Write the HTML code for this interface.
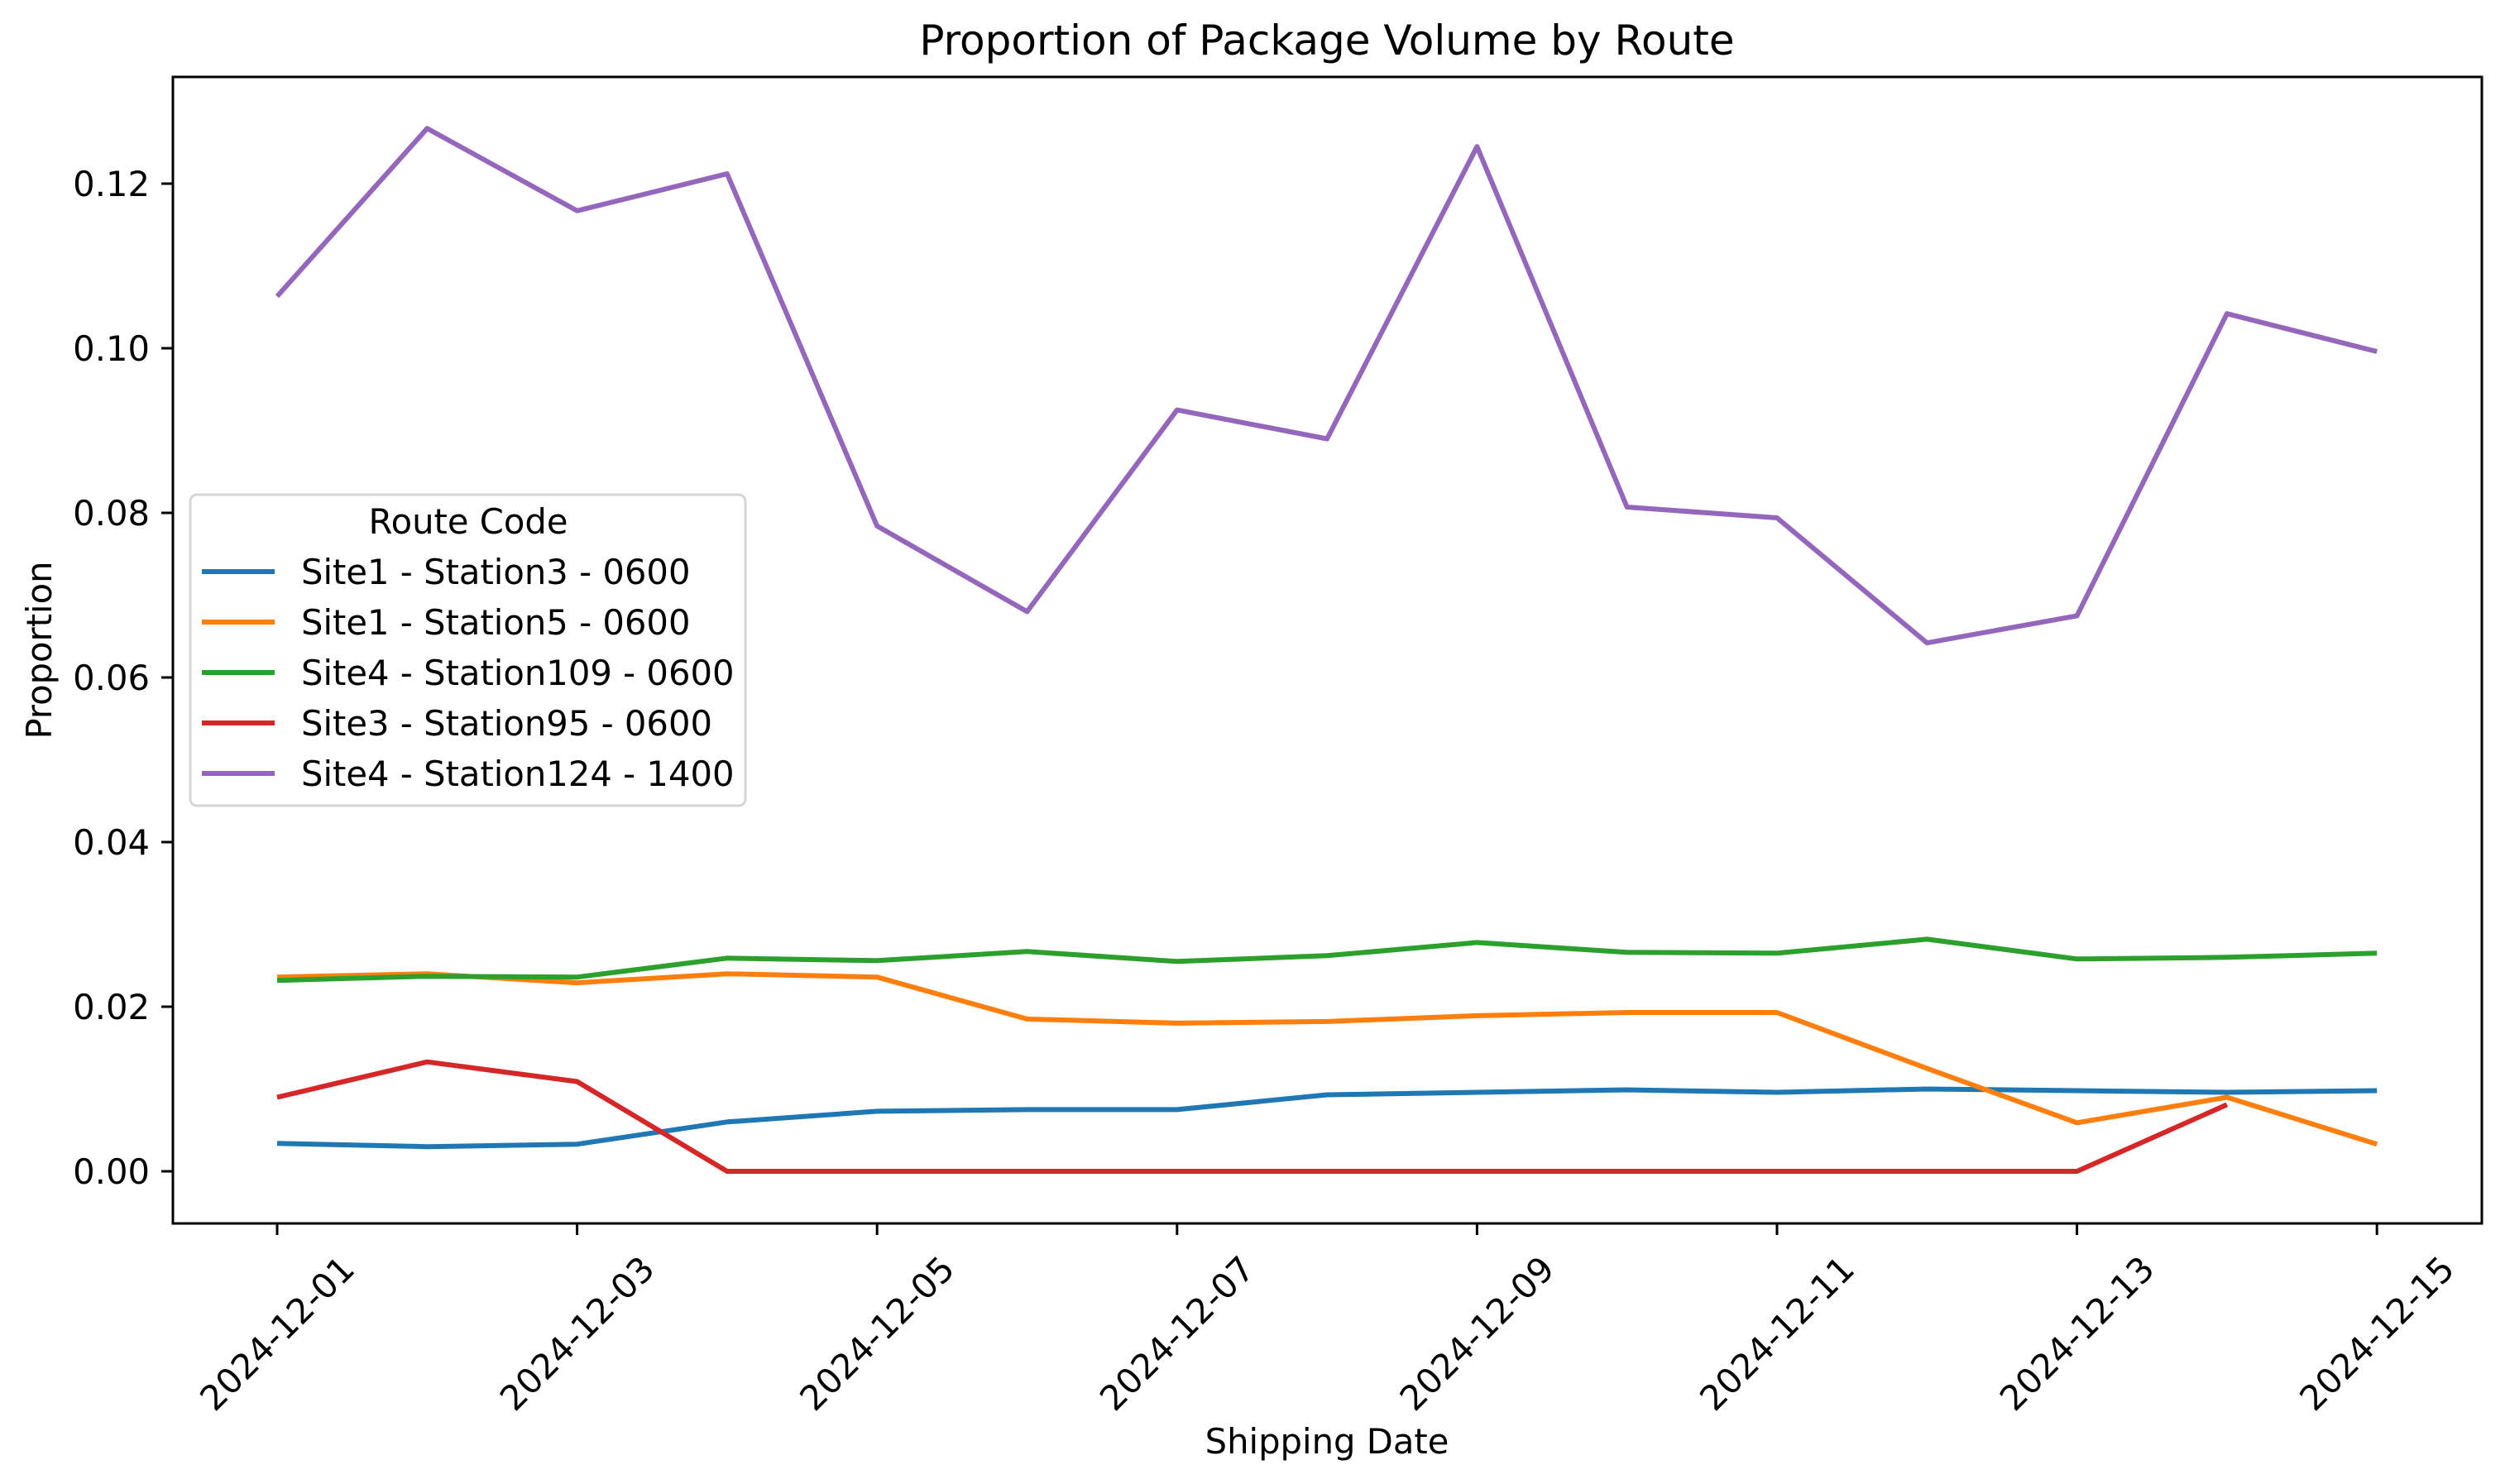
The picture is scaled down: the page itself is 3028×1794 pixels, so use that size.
<!DOCTYPE html>
<html><head><meta charset="utf-8"><style>
html,body{margin:0;padding:0;background:#fff;}
svg{display:block;font-family:"DejaVu Sans","Liberation Sans",sans-serif;}
</style></head><body>
<svg id="chart" width="3028" height="1794" viewBox="0 0 3028 1794" xmlns="http://www.w3.org/2000/svg">
<rect width="3028" height="1794" fill="#fff"/>
<text x="1604" y="66" text-anchor="middle" font-size="50">Proportion of Package Volume by Route</text>
<text x="0" y="0" transform="translate(62,786) rotate(-90)" text-anchor="middle" font-size="41.7">Proportion</text>
<text x="1604" y="1757" text-anchor="middle" font-size="41.7">Shipping Date</text>
<g id="plot"></g>
<rect x="209" y="93" width="2791" height="1386" fill="none" stroke="#000" stroke-width="3"/>
<g id="legend"></g>
</svg>
<script>
const dates = ["2024-12-01","2024-12-02","2024-12-03","2024-12-04","2024-12-05","2024-12-06","2024-12-07","2024-12-08","2024-12-09","2024-12-10","2024-12-11","2024-12-12","2024-12-13","2024-12-14","2024-12-15"];
const seriesNames = ["Site1 - Station3 - 0600","Site1 - Station5 - 0600","Site4 - Station109 - 0600","Site3 - Station95 - 0600","Site4 - Station124 - 1400"];
const blueVals = [0.0034,0.0030,0.0033,0.0060,0.0073,0.0075,0.0075,0.0093,0.0096,0.0099,0.0096,0.0100,0.0098,0.0096,0.0098];
const orangeVals = [0.0236,0.0240,0.0229,0.0240,0.0236,0.0185,0.0180,0.0182,0.0189,0.0193,0.0193,0.0125,0.0059,0.0090,0.0033];
const greenVals = [0.0232,0.0237,0.0236,0.0259,0.0256,0.0267,0.0255,0.0262,0.0278,0.0266,0.0265,0.0282,0.0258,0.0260,0.0265];
const redVals = [0.0090,0.0133,0.0109,0,0,0,0,0,0,0,0,0,0,0.0081,null];
const purpleVals = [0.1063,0.1267,0.1167,0.1212,0.0784,0.0680,0.0925,0.0890,0.1245,0.0807,0.0794,0.0642,0.0675,0.1042,0.0996];
const yTicks = [0.00,0.02,0.04,0.06,0.08,0.10,0.12];
const xTickLabels = ["2024-12-01","2024-12-03","2024-12-05","2024-12-07","2024-12-09","2024-12-11","2024-12-13","2024-12-15"];

const colors = ["#1f77b4","#ff7f0e","#2ca02c","#d62728","#9467bd"];
const NS = "http://www.w3.org/2000/svg";
const plot = document.getElementById('plot');
const legend = document.getElementById('legend');
function xScale(i){ return 335 + i * 181.3; }
function yScale(v){ return 1416 - v / 0.02 * 199; }
function mk(tag, attrs, parent){ const e=document.createElementNS(NS,tag); for(const k in attrs) e.setAttribute(k,attrs[k]); parent.appendChild(e); return e; }

yTicks.forEach(t=>{
  const y=yScale(t);
  const tk=mk('line',{x1:195,x2:209,y1:y,y2:y,stroke:'#000','stroke-width':3},plot);
  
  
  const lb=mk('text',{x:181,y:y+15,'text-anchor':'end','font-size':41.7},plot);
  
  
  lb.textContent=t.toFixed(2);
});
xTickLabels.forEach(d=>{
  const i=dates.indexOf(d); const x=xScale(i);
  const tk=mk('line',{x1:x,x2:x,y1:1479,y2:1493,stroke:'#000','stroke-width':3},plot);
  
  
  const lb=mk('text',{x:0,y:0,'text-anchor':'middle','dominant-baseline':'central','font-size':41.7,transform:`translate(${x},1612) rotate(-45)`},plot);
  
  
  lb.textContent=d;
});
const allSeries=[blueVals,orangeVals,greenVals,redVals,purpleVals];
allSeries.forEach((vals,s)=>{
  let pts=[];
  vals.forEach((v,i)=>{ if(v!==null) pts.push(xScale(i).toFixed(1)+','+yScale(v).toFixed(1)); });
  const pl=mk('polyline',{points:pts.join(' '),fill:'none',stroke:colors[s],'stroke-width':6,'stroke-linejoin':'round'},plot);
  
  
});
const lbox=mk('rect',{x:230,y:598,width:671,height:376,rx:8,fill:'#fff','fill-opacity':0.8,stroke:'#d6d6d6','stroke-width':3},legend);


const lt=mk('text',{x:566,y:645,'text-anchor':'middle','font-size':41.7},legend);


lt.textContent='Route Code';
seriesNames.forEach((n,s)=>{
  const y=691+s*61;
  const h=mk('line',{x1:244,x2:332,y1:y,y2:y,stroke:colors[s],'stroke-width':6},legend);
  
  
  const t=mk('text',{x:364,y:y+15,'font-size':41.7},legend);
  
  
  t.textContent=n;
});
</script>
</body></html>
